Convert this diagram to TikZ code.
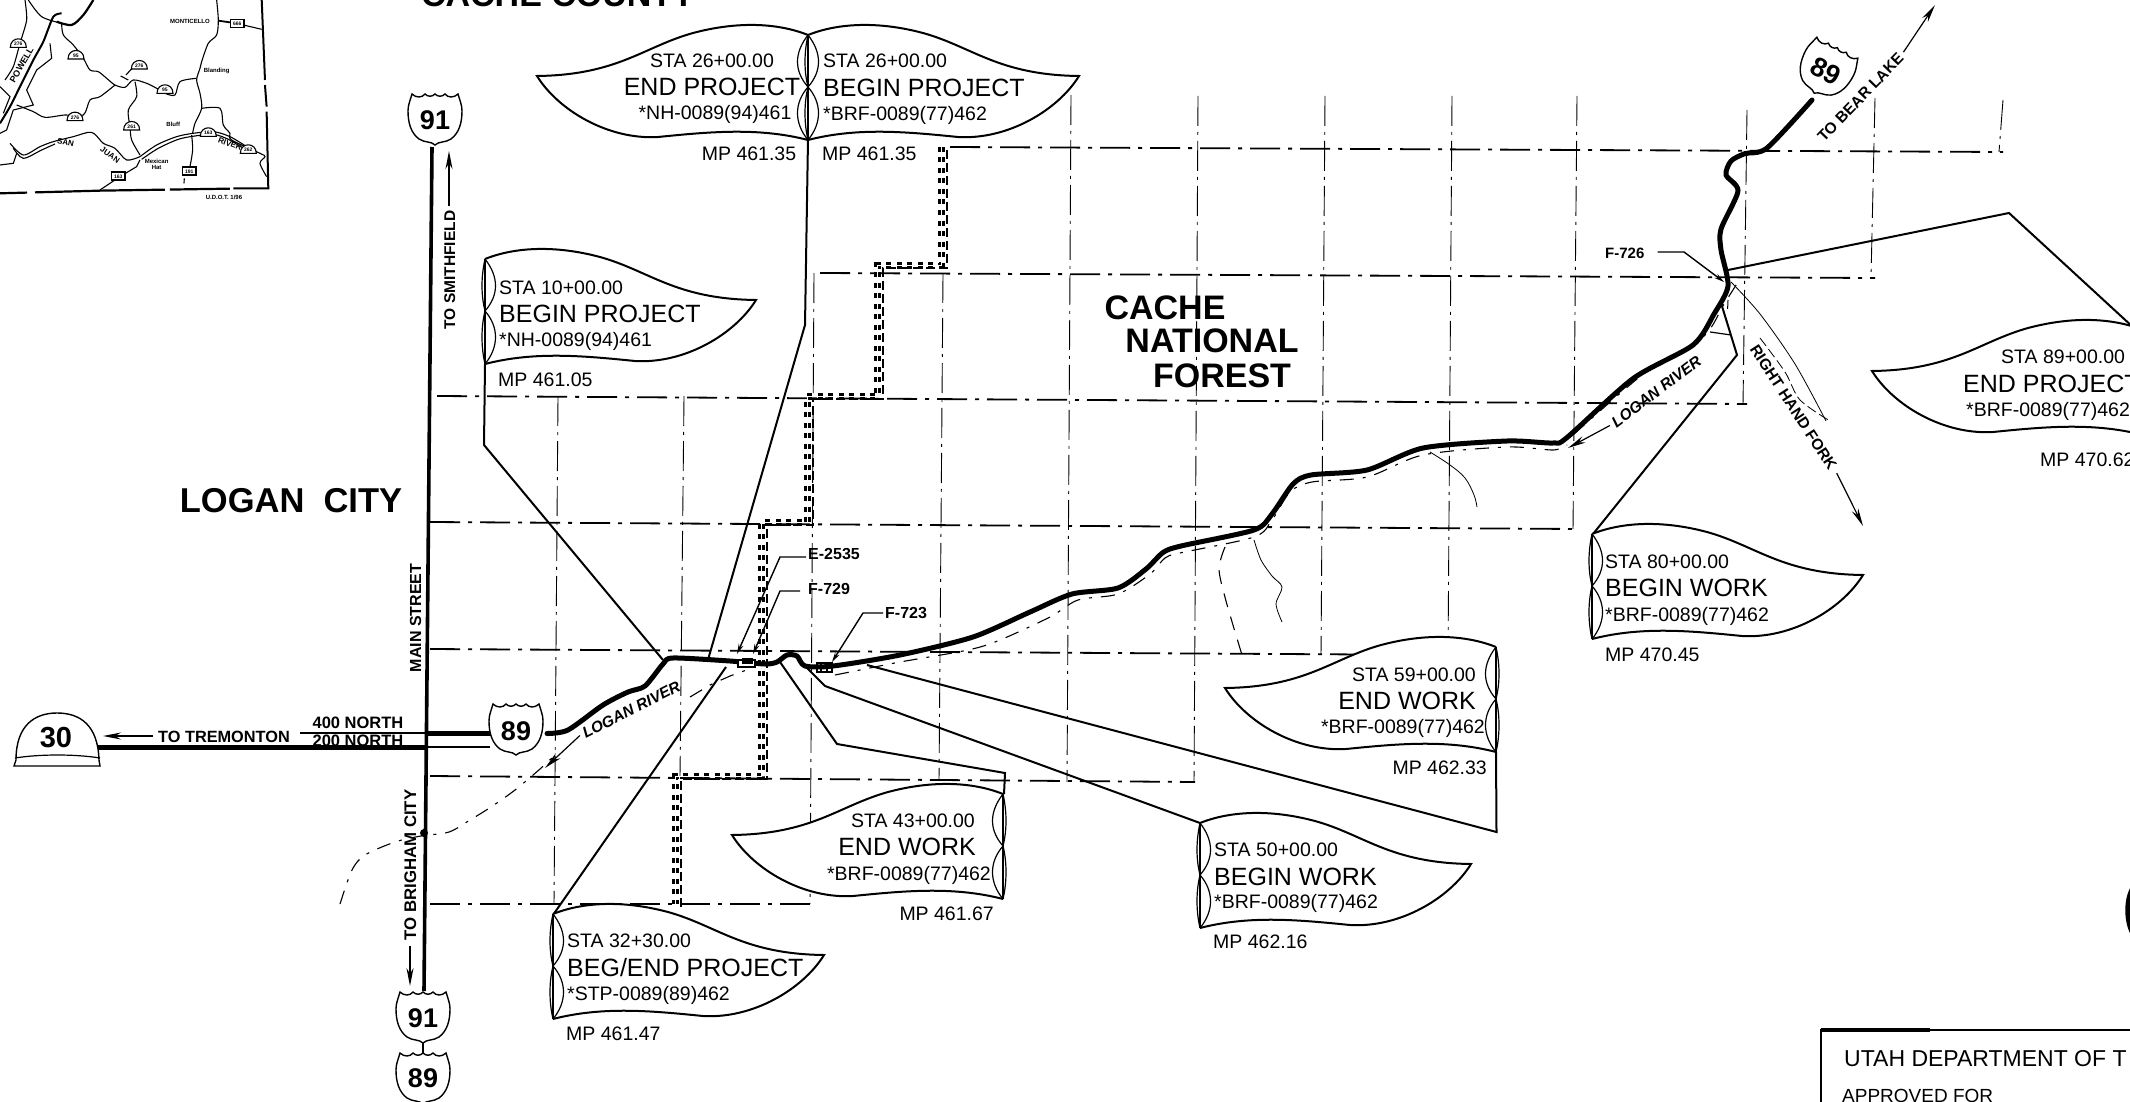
\documentclass[tikz,border=0pt]{standalone}
\usepackage{fontspec}
\setmainfont{Liberation Sans}
\usetikzlibrary{arrows.meta}
\newcommand{\fsz}[1]{\fontsize{#1}{#1}\selectfont}
\tikzset{
  lbl/.style={inner sep=0pt,text height=14pt,text depth=0pt,font=\fsz{19.5}},
  big/.style={inner sep=0pt,text height=18pt,text depth=0pt,font=\fsz{25}},
  bld/.style={inner sep=0pt,text height=12pt,text depth=0pt,font=\fsz{16}\bfseries},
  ttl/.style={inner sep=0pt,text height=25pt,text depth=0pt,font=\fsz{34}\bfseries},
  grid/.style={line width=.9pt,dash pattern=on 30pt off 6pt on 3pt off 6pt},
  gridh/.style={line width=1.8pt,dash pattern=on 30pt off 8pt on 4pt off 8pt},
  road/.style={line width=5pt,line cap=round,line join=round},
  river/.style={line width=1.1pt,dash pattern=on 14pt off 9pt on 3pt off 9pt},
  call/.style={line width=2pt,line join=miter},
  lead/.style={line width=1.4pt,-{Stealth[length=10pt,width=5pt]}},
  dirarrow/.style={line width=1.2pt,-{Stealth[length=18pt,width=7pt]}},
  mapln/.style={line width=1.1pt},
  mapt/.style={inner sep=0pt,font=\fsz{6}\bfseries},
  leaf/.pic={
    \draw[line width=2pt,fill=white,line join=miter] (0,0) .. controls (30,-12) and (70,-14) .. (115,-2) .. controls (165,12) and (190,40) .. (271,41)
      .. controls (250,75) and (200,105) .. (150,102) .. controls (100,97) and (50,92) .. (0,105);
    \draw[line width=1.5pt] (0,0) -- (0,105);
    \draw[line width=1.2pt] (0,0) .. controls (14,18) and (14,36) .. (0,52) .. controls (14,68) and (14,88) .. (0,105);
    \draw[line width=1.2pt] (0,0) .. controls (-4,18) and (-4,36) .. (0,52) .. controls (-4,68) and (-4,88) .. (0,105);
  },
  shield/.pic={
    \draw[line width=1.4pt,fill=white] (-23,-25) .. controls (-19,-21) and (-13,-21) .. (-10,-25) .. controls (-7,-22) and (-3,-22) .. (0,-25) .. controls (3,-22) and (7,-22) .. (10,-25) .. controls (13,-21) and (19,-21) .. (23,-25) .. controls (25,-18) and (27,-14) .. (27,-8) .. controls (27,4) and (24,14) .. (16,20) .. controls (10,24) and (4,22) .. (0,26) .. controls (-4,22) and (-10,24) .. (-16,20) .. controls (-24,14) and (-27,4) .. (-27,-8) .. controls (-27,-14) and (-25,-18) .. (-23,-25) -- cycle;
  },
  mini/.pic={
    \draw[line width=1.1pt,fill=white] (-24,12) .. controls (-24,-22) and (24,-22) .. (24,12) -- cycle;
  }
}
\begin{document}
\begin{tikzpicture}[x=1pt,y=-1pt,line cap=butt]
\useasboundingbox (0,0) rectangle (2130,1102);
\clip (0,0) rectangle (2130,1102);
\fill[white] (0,0) rectangle (2130,1102);

% ---------- inset map (coordinates at 3x)
\begin{scope}[x=.3333pt,y=-.3333pt]
\draw[line width=2pt] (785,-5) -- (795,240);
\draw[line width=2pt] (795,255) -- (800,320);
\draw[line width=2pt] (800,335) -- (805,565) -- (700,565);
\draw[line width=2.2pt,dash pattern=on 60pt off 5pt on 130pt off 8pt] (690,566) -- (300,572) -- (0,580);
\draw[mapln] plot[smooth,tension=.5] coordinates {(650,0)(655,60)(650,105)(625,130)(605,185)(600,205)(590,240)(600,280)(605,325)(585,370)(578,400)};
\draw[line width=1.8pt] (655,62) -- (710,70);
\draw[mapln] (730,75) -- (760,82) -- (785,88);
\draw[mapln] plot[smooth,tension=.5] coordinates {(185,70)(190,105)(220,135)(250,175)(270,210)(295,215)(320,235)(345,255)(375,262)(400,240)(440,250)(470,265)(495,280)(525,285)(540,245)(590,235)};
\draw[mapln] plot[smooth,tension=.5] coordinates {(345,255)(300,290)(270,300)(250,345)(195,345)(135,352)(100,335)(50,315)};
\draw[mapln] (362,228) -- (385,240);
\draw[mapln] (378,225) -- (410,190);
\draw[mapln] plot[smooth,tension=.5] coordinates {(405,245)(410,290)(385,330)(390,380)(395,420)(420,465)};
\draw[mapln] plot[smooth,tension=.5] coordinates {(605,325)(660,325)(670,375)(690,400)(695,420)(780,460)(795,470)(780,490)(800,530)};
\draw[mapln] plot[smooth,tension=.5] coordinates {(420,470)(470,435)(530,410)(580,400)(640,395)(690,410)(740,440)};
\draw[mapln] plot[smooth,tension=.5] coordinates {(425,478)(475,445)(535,418)(585,408)(640,403)(685,418)(735,448)};
\draw[mapln] plot[smooth,tension=.5] coordinates {(30,430)(70,465)(120,440)(160,425)(220,410)(275,397)(310,430)(345,445)(380,480)(420,470)};
\draw[mapln] plot[smooth,tension=.5] coordinates {(40,445)(70,475)(125,450)(165,432)};
\draw[mapln] (50,460) -- (40,490) -- (0,495);
\draw[mapln] (420,480) -- (410,500) -- (360,530) -- (300,570);
\draw[mapln] plot[smooth,tension=.5] coordinates {(575,405)(578,450)(570,500)};
\draw[mapln] (553,535) -- (552,550);
\draw[mapln] plot[smooth,tension=.5] coordinates {(85,0)(125,50)(185,70)};
\draw[line width=2.2pt] plot[smooth,tension=.5] coordinates {(170,65)(215,75)(250,45)(280,0)};
\draw[line width=2pt] plot[smooth,tension=.4] coordinates {(185,40)(160,50)(130,125)(100,180)(60,260)(30,320)(0,370)};
\draw[mapln] plot[smooth,tension=.4] coordinates {(15,240)(40,200)(60,130)(80,60)(75,0)};
\draw[mapln] (150,130) -- (155,175) -- (110,210) -- (80,270) -- (100,315) -- (40,330) -- (20,390) -- (0,400);
\draw[mapln] (0,260) -- (30,290) -- (10,340);
\foreach \mx/\my/\mn in {55/130/276,228/165/95,418/195/276,495/268/95,225/350/276,395/378/261,625/397/163,745/448/262}{
  \pic at (\mx,\my) {mini};
  \node[inner sep=0pt,font=\fsz{5}\bfseries] (m\mx) at (\mx,\my+2) {\mn};
}
\foreach \mx/\my/\mn in {355/530/163,568/515/191,712/72/666}{
  \draw[line width=1.1pt,fill=white] (\mx-20,\my-14) rectangle (\mx+20,\my+10);
  \node[inner sep=0pt,font=\fsz{5}\bfseries] (s\mx) at (\mx,\my) {\mn};
}
\node[mapt,rotate=60] (mPow) at (65,195) {\fsz{9}POWELL};
\node[mapt,rotate=-12] (mSan) at (197,427) {\fsz{8}SAN};
\node[mapt,rotate=-35] (mJua) at (330,465) {\fsz{8}JUAN};
\node[mapt,rotate=-20] (mRiv) at (690,432) {\fsz{8}RIVER};
\node[mapt] (mMon) at (570,65) {MONTICELLO};
\node[mapt] (mBla) at (650,213) {Blanding};
\node[mapt] (mBlu) at (520,373) {Bluff};
\node[mapt,align=center] (mMex) at (470,494) {Mexican\\Hat};
\node[mapt] (mUdot) at (672,592) {U.D.O.T. 1/96};
\end{scope}

\node[inner sep=0pt,anchor=base,font=\fsz{34}\bfseries] (county) at (558,7) {CACHE COUNTY};

% ---------- section grid
\foreach \gx/\ga/\gb in {558/396/904,684/396/776,814/273/904,943/273/780,1071/95/782,1198/96/782,1325/96/655,1452/96/655,1577/96/529,1747/110/404,1875/98/278,2003/100/152}{
  \draw[grid] (\gx,\ga) -- (\gx-4,\gb);
}
\draw[gridh] (950,147) -- (2003,152);
\draw[gridh] (820,273) -- (1875,278);
\draw[gridh] (437,396) -- (1747,404);
\draw[gridh] (430,522) -- (1577,529);
\draw[gridh] (430,649) -- (1450,655);
\draw[gridh] (430,776) -- (1195,782);
\draw[gridh] (430,904) -- (810,904);

% ---------- forest boundary
\def\ladderpath{(941,147) -- (941,265) -- (877,265) -- (877,396) -- (807,396) -- (807,522) -- (761,522) -- (761,776) -- (675,776) -- (675,904)}
\draw[line width=7pt,dash pattern=on 5pt off 5.5pt] \ladderpath;
\draw[white,line width=.9pt] \ladderpath;
\draw[line width=1.2pt,dash pattern=on 9pt off 4pt,shift={(6,3)}] \ladderpath;

% ---------- rivers and streams
\draw[river] plot[smooth,tension=.5] coordinates {(340,904)(352,870)(365,855)(395,842)(421,836)(449,832)(470,820)(491,807)(515,790)(540,769)(556,754)};
\draw[river] (690,697) -- (710,685) -- (730,676) -- (752,668);
\draw[river] plot[smooth,tension=.5] coordinates {(835,675)(860,670)(900,662)(968,650)(1000,640)(1050,617)(1078,600)(1118,594)(1150,574)(1165,558)(1180,553)(1254,537)(1272,520)(1290,492)(1312,482)(1367,477)(1423,455)(1507,447)(1553,450)(1567,445)};
\draw[river] plot[smooth,tension=.5] coordinates {(1574,434)(1647,371)(1703,337)(1724,304)(1738,282)};
\draw[line width=1.1pt,dash pattern=on 14pt off 10pt] plot[smooth,tension=.5] coordinates {(1225,547)(1219,569)(1226,601)(1242,655)};
\draw[line width=.8pt] plot[smooth,tension=.6] coordinates {(1430,452)(1450,465)(1465,478)(1474,495)(1477,507)};
\draw[line width=.8pt] plot[smooth,tension=.5] coordinates {(1254,540)(1261,560)(1272,576)(1282,587)(1276,604)(1282,622)};
\draw[line width=.8pt] plot[smooth,tension=.5] coordinates {(1731,282)(1760,314)(1795,364)(1826,421)};
\draw[line width=.8pt,dash pattern=on 10pt off 4pt] plot[smooth,tension=.5] coordinates {(1760,338)(1785,372)(1800,400)(1830,421)};
\draw[line width=1pt,dash pattern=on 9pt off 12pt] (1728,300) -- (1727,322);
\draw[line width=1.2pt] (1710,332) -- (1731,335);

% ---------- roads
\draw[line width=3.6pt] (432,147) -- (424,991);
\draw[line width=5pt] (98,747) -- (428,747);
\draw[line width=2.4pt] (428,747) -- (490,747);
\draw[line width=1.2pt] (300,733) -- (428,733);
\draw[line width=5pt] (428,733) -- (492,733);
\draw[line width=1.2pt] (423,1040) -- (423,1054);
\draw[road] plot[smooth,tension=.45] coordinates {(547,733.5)(568,730)(603,705)(628,692)(645,686)(663,664)(673,658)(730,661)(765,664)(777,662)(787,655)(797,656)(805,666)(833,666)(900,655)(973,637)(1030,612)(1072,594)(1118,588)(1146,569)(1163,552.5)(1181,546)(1254,530)(1272,514)(1293,484)(1311,475)(1367,470)(1423,448)(1507,441)(1553,443)(1567,437.5)(1633,378.6)(1693,345)(1714,314)(1728,286)(1721,250)(1721,229)(1738,191)(1726,175)(1731,161)(1745,153.6)(1767,148)(1812,100)};
\fill (424,833) circle (4pt);

% ---------- named connection points
\coordinate (j10) at (663,660);
\coordinate (j26) at (708.5,658);
\coordinate (j32) at (726,667);
\coordinate (j43) at (780,662);
\coordinate (j50) at (807,668);
\coordinate (j59) at (867,665);
\coordinate (j80) at (1721,303);
\coordinate (j89) at (1728,270);

% ---------- structures
\draw[line width=1.2pt,fill=white] (738,660) rectangle (755,667);
\fill (742,658) rectangle (753,664);
\draw[line width=1.2pt] (817,663) rectangle (832,672);
\draw[line width=1.2pt] (821,663) -- (821,672) (827,663) -- (827,672);

% ---------- callout connectors
\draw[call] (485,364) -- (484,445) -- (j10);
\draw[call] (808,139) -- (805,325) -- (j26);
\draw[call] (553,915) -- (j32);
\draw[call] (1004,794) -- (1005,773) -- (837,744) -- (j43);
\draw[call] (1200,823) -- (825,686) -- (j50);
\draw[call] (1496,752) -- (1496.5,832) -- (j59);
\draw[call] (1593,534) -- (1737,355) -- (j80);
\draw[call] (2160,352) -- (2009,213) -- (j89);

% ---------- leaves
\pic at (485,259) {leaf};
\pic[xscale=-1] at (808,35) {leaf};
\pic at (808,35) {leaf};
\pic at (553,914) {leaf};
\pic[xscale=-1] at (1003,794) {leaf};
\pic at (1200,823) {leaf};
\pic[xscale=-1] at (1496,647) {leaf};
\pic at (1592,534) {leaf};
\pic[xscale=-1] at (2143,330) {leaf};

% ---------- leaf texts
\node[lbl,anchor=center] (a1) at (712,61) {STA 26+00.00};
\node[big,anchor=center] (a2) at (712,87) {END PROJECT};
\node[lbl,anchor=center] (a3) at (715,113) {*NH-0089(94)461};
\node[lbl,anchor=center] (a4) at (749,154) {MP 461.35};
\node[lbl,anchor=west] (b1) at (823,61) {STA 26+00.00};
\node[big,anchor=west] (b2) at (823,88) {BEGIN PROJECT};
\node[lbl,anchor=west] (b3) at (823,114) {*BRF-0089(77)462};
\node[lbl,anchor=west] (b4) at (822,154) {MP 461.35};
\node[lbl,anchor=west] (c1) at (499,287) {STA 10+00.00};
\node[big,anchor=west] (c2) at (499,313) {BEGIN PROJECT};
\node[lbl,anchor=west] (c3) at (499,339) {*NH-0089(94)461};
\node[lbl,anchor=west] (c4) at (498,379) {MP 461.05};
\node[lbl,anchor=west] (d1) at (567,940) {STA 32+30.00};
\node[big,anchor=west] (d2) at (567,967) {BEG/END PROJECT};
\node[lbl,anchor=west] (d3) at (567,993) {*STP-0089(89)462};
\node[lbl,anchor=west] (d4) at (566,1033) {MP 461.47};
\node[lbl,anchor=east] (e1) at (975,820) {STA 43+00.00};
\node[big,anchor=east] (e2) at (976,846) {END WORK};
\node[lbl,anchor=east] (e3) at (991,873) {*BRF-0089(77)462};
\node[lbl,anchor=east] (e4) at (994,913) {MP 461.67};
\node[lbl,anchor=west] (f1) at (1214,849) {STA 50+00.00};
\node[big,anchor=west] (f2) at (1214,876) {BEGIN WORK};
\node[lbl,anchor=west] (f3) at (1214,901) {*BRF-0089(77)462};
\node[lbl,anchor=west] (f4) at (1213,941) {MP 462.16};
\node[lbl,anchor=east] (g1) at (1476,674) {STA 59+00.00};
\node[big,anchor=east] (g2) at (1476,700) {END WORK};
\node[lbl,anchor=east] (g3) at (1485,726) {*BRF-0089(77)462};
\node[lbl,anchor=east] (g4) at (1487,767) {MP 462.33};
\node[lbl,anchor=west] (h1) at (1605,561) {STA 80+00.00};
\node[big,anchor=west] (h2) at (1605,587) {BEGIN WORK};
\node[lbl,anchor=west] (h3) at (1605,614) {*BRF-0089(77)462};
\node[lbl,anchor=west] (h4) at (1605,654) {MP 470.45};
\node[lbl,anchor=west] (i1) at (2001,356) {STA 89+00.00};
\node[big,anchor=west] (i2) at (1963,383) {END PROJECT};
\node[lbl,anchor=west] (i3) at (1966,409) {*BRF-0089(77)462};
\node[lbl,anchor=west] (i4) at (2040,459) {MP 470.62};

% ---------- shields
\pic at (435,119) {shield};
\node[inner sep=0pt,font=\fsz{27}\bfseries] (s91a) at (435,120) {91};
\pic at (516,729) {shield};
\node[inner sep=0pt,font=\fsz{27}\bfseries] (s89a) at (516,731) {89};
\pic at (423,1017) {shield};
\node[inner sep=0pt,font=\fsz{27}\bfseries] (s91b) at (423,1018) {91};
\pic at (423,1078) {shield};
\node[inner sep=0pt,font=\fsz{27}\bfseries] (s89b) at (423,1078) {89};
\pic[rotate=-27] at (1826,70) {shield};
\node[inner sep=0pt,rotate=-27,font=\fsz{27}\bfseries] (s89c) at (1826,71) {89};
% state route 30
\draw[line width=1.4pt,fill=white] (16,760) .. controls (16,725) and (35,713) .. (57,713) .. controls (80,713) and (98,725) .. (99,760) -- (100,766) -- (14,766) -- cycle;
\draw[line width=1.2pt] (15,758) .. controls (40,754) and (75,754) .. (100,758);
\node[inner sep=0pt,font=\fsz{29}\bfseries] (s30) at (56,738) {30};

% ---------- road labels
\node[ttl,font=\fsz{34.5}\bfseries] (logan) at (291,500) {LOGAN\ \ CITY};
\node[ttl] (n1) at (1165,307) {CACHE};
\node[ttl] (n2) at (1212,340) {NATIONAL};
\node[ttl] (n3) at (1222,375) {FOREST};
\node[bld,rotate=90,font=\fsz{15.5}\bfseries] (smith) at (449,270) {TO SMITHFIELD};
\node[bld,rotate=90] (mainst) at (415,618) {MAIN STREET};
\node[bld,rotate=90,font=\fsz{16.8}\bfseries] (brig) at (410,865) {TO BRIGHAM CITY};
\node[bld,font=\fsz{16.3}\bfseries] (trem) at (224,736) {TO TREMONTON};
\node[bld,font=\fsz{16.5}\bfseries] (n400) at (358,722) {400 NORTH};
\node[bld,font=\fsz{16.5}\bfseries] (n200) at (358,740) {200 NORTH};
\node[bld,rotate=27,font=\fsz{15.5}\itshape\bfseries] (lr1) at (631,709) {LOGAN RIVER};
\node[bld,rotate=37,font=\fsz{15.5}\itshape\bfseries] (lr2) at (1656,391) {LOGAN RIVER};
\node[bld,rotate=-57,font=\fsz{15.5}\bfseries] (rhf) at (1794,407) {RIGHT HAND FORK};
\node[bld,rotate=46,font=\fsz{15.5}\bfseries] (bear) at (1860,97) {TO BEAR LAKE};

\draw[dirarrow] (smith.east) ++(0,-5) -- (449,151);
\draw[dirarrow] (brig.west) ++(0,5) -- (410,986);
\draw[dirarrow] (trem.west) ++(-5,0) -- (103,736);
\draw[dirarrow] (lr1.west) ++(-3,2) -- (545,768);
\draw[dirarrow] (lr2.west) ++(-3,2) -- (1568,448);
\draw[dirarrow] (rhf.east) ++(3,5) -- (1863,526);
\draw[dirarrow] (bear.east) ++(3,-3) -- (1935,5);

% ---------- structure labels
\node[bld,anchor=west,font=\fsz{16}\bfseries] (e2535) at (808,553) {E-2535};
\node[bld,anchor=west,font=\fsz{16}\bfseries] (f729) at (808,588) {F-729};
\node[bld,anchor=west,font=\fsz{16}\bfseries] (f723) at (885,612) {F-723};
\node[bld,anchor=west,font=\fsz{15}\bfseries] (f726) at (1605,252) {F-726};
\coordinate (se) at (737,654);
\coordinate (sf) at (753,654);
\coordinate (sg) at (832,662);
\coordinate (sh) at (1724,282);
\draw[lead] (e2535.west) ++(-2,4) -- (780,557) -- (se);
\draw[lead] (f729.west) ++(-8,3) -- (780,591) -- (sf);
\draw[lead] (f723.west) ++(-2,1) -- (863,613) -- (sg);
\draw[lead] (f726.east) ++(13,0) -- (1684,252) -- (sh);

% ---------- title block
\draw[line width=2pt] (1821,1102) -- (1821,1030) -- (2130,1030);
\draw[line width=3.5pt] (1821,1030) -- (1930,1030);
\node[inner sep=0pt,anchor=west,text height=17pt,text depth=0pt,font=\fsz{23}] (udot) at (1844,1058) {UTAH DEPARTMENT OF T};
\node[inner sep=0pt,anchor=west,text height=14pt,text depth=0pt,font=\fsz{19}] (appr) at (1842,1095) {APPROVED FOR};

% ---------- seal fragment
\draw[line width=5pt] (2136,884) .. controls (2125,895) and (2125,925) .. (2136,938);
\end{tikzpicture}
\end{document}
